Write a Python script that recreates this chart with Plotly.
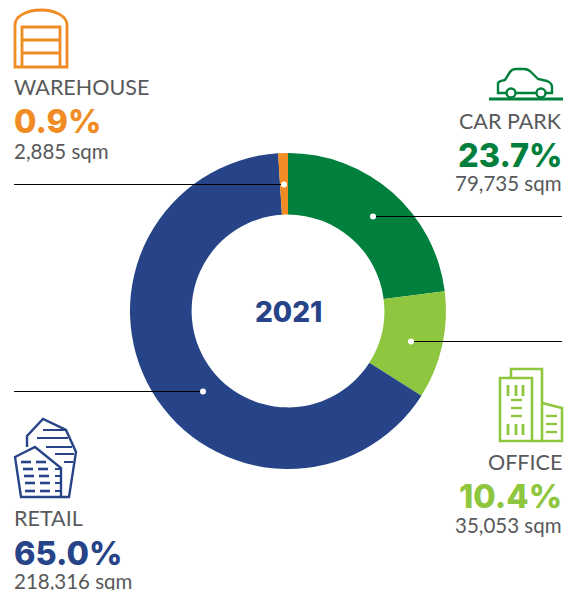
import plotly.graph_objects as go

categories = ["CAR PARK", "OFFICE", "RETAIL", "WAREHOUSE"]
share_labels = ["23.7%", "10.4%", "65.0%", "0.9%"]
areas = ["79,735 sqm", "35,053 sqm", "218,316 sqm", "2,885 sqm"]
# slice sizes as drawn in the picture (they differ slightly from the printed shares)
slice_sizes = [23.0, 11.0, 65.0, 1.0]
colors = ["#007F3D", "#8FC63F", "#264487", "#F08C23"]
year = "2021"
GREY = "#58595B"
FONT = "Lato"
HEAVY = "Inter"
W, H = 578, 590

fig = go.Figure(go.Pie(
    labels=categories, values=slice_sizes, sort=False, direction="clockwise", rotation=0,
    hole=0.61, textinfo="none", marker=dict(colors=colors, line=dict(width=0)),
    domain=dict(x=[130/W, 446/W], y=[1-469/H, 1-153/H]), showlegend=False))

shapes = []
def path(d, c, w=2.5, fill=None):
    shapes.append(dict(type="path", path=d, xref="x", yref="y",
                       line=dict(color=c, width=w), fillcolor=fill or "rgba(0,0,0,0)"))
def seg(x0, y0, x1, y1, c, w=2.5):
    shapes.append(dict(type="line", x0=x0, y0=y0, x1=x1, y1=y1, xref="x", yref="y",
                       line=dict(color=c, width=w)))
def circ(cx, cy, r, c, fill="rgba(0,0,0,0)", w=2.5):
    shapes.append(dict(type="circle", x0=cx-r, y0=cy-r, x1=cx+r, y1=cy+r, xref="x", yref="y",
                       line=dict(color=c, width=w), fillcolor=fill))

# leader lines and dots
for x0, x1, y in [(14, 284, 184), (373, 562, 216), (411, 562, 341), (14, 203, 391)]:
    seg(x0, y + 0.5, x1, y + 0.5, "#000000", 1.2)
for x, y in [(284, 184), (373, 216), (411, 341), (203, 391)]:
    circ(x, y + 0.5, 3, "#FFFFFF", "#FFFFFF", 0)

# warehouse icon
o = colors[3]
path("M15,67 V25 C15,16 27,10 41,10 C55,10 67,16 67,25 V67 Z", o, 2.8)
path("M22,67 V27 H60 V67", o, 2.8)
seg(22, 40, 60, 40, o, 2.8); seg(22, 53, 60, 53, o, 2.8)

# car icon
g = colors[0]
seg(489, 99, 563, 99, g, 2.8)
path("M506,93 H498 V83 Q499,81 505,80 L510,72 Q512,69 516,69 H524 Q528,69 531,72 L538,79 L547,81 Q552,83 552,87 V93 H546 M536,93 H516", g, 2.4)
circ(511, 93, 4.5, g, "#FFFFFF", 2.4)
circ(541, 93, 4.5, g, "#FFFFFF", 2.4)

# office icon
l = colors[1]
path("M500,378 H532 V441 H500 Z", l, 2.6)
path("M511,378 V369 H542 V441 H532", l, 2.6)
path("M542,403 L562,408 V441 H542", l, 2.6)
for x in (508, 516, 523):
    seg(x, 385, x, 396, l, 2.8); seg(x, 424, x, 435, l, 2.8)
for y in (400, 408, 416):
    seg(511, y, 522, y, l, 2.4)
for y in (416, 424, 432):
    seg(546, y, 557, y, l, 2.4)

# retail icon
n = colors[2]
path("M15,457 L35,447 L61,468 V497 H21 Z", n, 2.4)
path("M27,447 V436 L43,419 L66,430 L76,452 L69,497 H61", n, 2.4)
for x0, x1, y in [(43, 66, 430), (37, 68, 438), (46, 72, 447), (55, 74, 454), (64, 73, 462)]:
    seg(x0, y, x1, y, n, 2)
for y, dx in [(462, 0), (469, 2), (476, 3), (483, 4), (491, 4)]:
    seg(21+dx, y, 31+dx, y, n, 2.6); seg(36+dx, y, 46+dx, y, n, 2.6)
for y in (469, 476, 483, 491):
    seg(55, y, 60, y, n, 2)

def text(x, y, s, size, color, anchor="left", family=FONT, weight=400):
    fig.add_annotation(x=x, y=y, xref="x", yref="y", text=s,
                       showarrow=False, xanchor=anchor, yanchor="middle",
                       font=dict(family=family, size=size, color=color, weight=weight), borderpad=0, borderwidth=0)

# label blocks: index, x, anchor, name y, pct y, area y
blocks = [(3, 14, "left", 86.5, 121, 151), (0, 562, "right", 120.5, 155, 183),
          (1, 562, "right", 461.5, 496, 525), (2, 14, "left", 517.5, 553, 581)]
for i, x, a, y1, y2, y3 in blocks:
    text(x, y1, categories[i], 21.5, GREY, a)
    text(x, y2, share_labels[i], 32.5, colors[i], a, HEAVY, 800)
    text(x, y3, areas[i], 20.5, GREY, a)
text(288, 312, year, 28, n, "center", HEAVY, 800)

fig.update_layout(
    width=W, height=H, margin=dict(l=0, r=0, t=0, b=0), autosize=False,
    paper_bgcolor="#FFFFFF", plot_bgcolor="rgba(0,0,0,0)", shapes=shapes,
    xaxis=dict(range=[0, W], visible=False, fixedrange=True),
    yaxis=dict(range=[H, 0], visible=False, fixedrange=True))
# an empty cartesian trace keeps the hidden pixel axes active for shapes and text
fig.add_trace(go.Scatter(x=[], y=[], showlegend=False, hoverinfo="skip"))
fig.write_html("out.html", config=dict(displayModeBar=False),
               post_script="document.body.style.margin='0';document.body.style.overflow='hidden';")
